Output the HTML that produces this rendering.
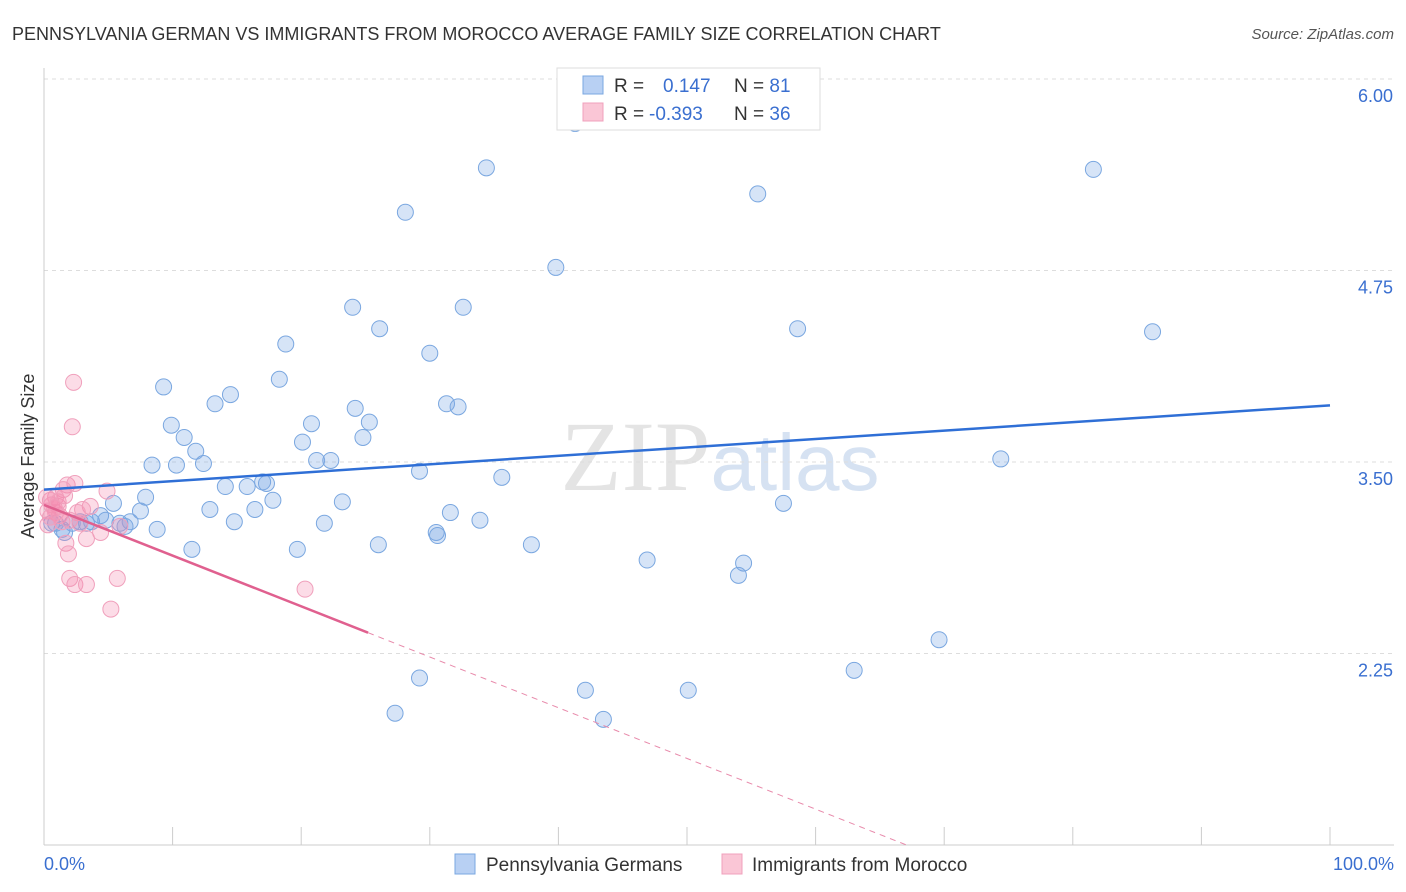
<!DOCTYPE html>
<html><head><meta charset="utf-8"><style>
body{margin:0;background:#fff;font-family:"Liberation Sans",sans-serif;}
svg{display:block}
</style></head><body>
<svg id="chart" width="1406" height="892">
<text x="12" y="40" font-size="18" fill="#333">PENNSYLVANIA GERMAN VS IMMIGRANTS FROM MOROCCO AVERAGE FAMILY SIZE CORRELATION CHART</text>
<text x="1394" y="39" font-size="15" fill="#555" font-style="italic" text-anchor="end">Source: ZipAtlas.com</text>
<text x="720" y="490" font-size="100" fill="#e4e4e4" text-anchor="middle" font-family="Liberation Serif">ZIP<tspan fill="#d6e2f2" font-family="Liberation Sans" font-size="80">atlas</tspan></text>
<g id="grid"></g><g id="axes"></g><g id="pts"></g><g id="trend"></g>
<text transform="translate(34,456) rotate(-90)" font-size="18" fill="#333" text-anchor="middle">Average Family Size</text>
<text x="44" y="870" font-size="18" fill="#3a6fd0">0.0%</text>
<text x="1394" y="870" font-size="18" fill="#3a6fd0" text-anchor="end">100.0%</text>
<g>
<rect x="557" y="68" width="263" height="62" fill="#fff" stroke="#ddd"/>
<rect x="583" y="76" width="20" height="18" fill="#b8d0f3" stroke="#7aa7e0"/>
<rect x="583" y="103" width="20" height="18" fill="#fac6d6" stroke="#f0a0bc"/>
<text x="614" y="92" font-size="19" fill="#333">R = <tspan fill="#3a6fd0" x="663">0.147</tspan><tspan x="734">N = </tspan><tspan fill="#3a6fd0">81</tspan></text>
<text x="614" y="120" font-size="19" fill="#333">R = <tspan fill="#3a6fd0" x="649">-0.393</tspan><tspan x="734">N = </tspan><tspan fill="#3a6fd0">36</tspan></text>
</g>
<g>
<rect x="455" y="854" width="20" height="20" fill="#b8d0f3" stroke="#7aa7e0"/>
<text x="486" y="871" font-size="19" fill="#333">Pennsylvania Germans</text>
<rect x="722" y="854" width="20" height="20" fill="#fac6d6" stroke="#f0a0bc"/>
<text x="752" y="871" font-size="19" fill="#333">Immigrants from Morocco</text>
</g>
</svg>
<script>
const yTicks=[2.25,3.5,4.75,6.0];
const yTickLabels=["2.25","3.50","4.75","6.00"];
const blueX=[41.3,34.4,81.6,55.5,28.1,39.8,24.0,32.6,26.1,58.6,86.2,18.8,30.0,18.3,9.3,14.5,13.3,31.3,32.2,24.2,20.8,25.3,9.9,24.8,10.9,20.1,11.8,21.2,22.3,8.4,10.3,12.4,74.4,29.2,35.6,17.0,17.3,14.1,15.8,7.9,17.8,23.2,5.4,57.5,12.9,16.4,7.5,31.6,4.4,33.9,4.8,14.8,6.7,21.8,2.2,0.9,3.7,1.4,5.9,6.3,3.3,8.8,30.5,30.6,26.0,37.9,19.7,11.5,46.9,54.4,54.0,69.6,63.0,29.2,42.1,50.1,27.3,43.5,0.6,2.8,1.6];
const blueY=[5.71,5.42,5.41,5.25,5.13,4.77,4.51,4.51,4.37,4.37,4.35,4.27,4.21,4.04,3.99,3.94,3.88,3.88,3.86,3.85,3.75,3.76,3.74,3.66,3.66,3.63,3.57,3.51,3.51,3.48,3.48,3.49,3.52,3.44,3.40,3.37,3.36,3.34,3.34,3.27,3.25,3.24,3.23,3.23,3.19,3.19,3.18,3.17,3.15,3.12,3.12,3.11,3.11,3.10,3.10,3.10,3.11,3.06,3.10,3.08,3.10,3.06,3.04,3.02,2.96,2.96,2.93,2.93,2.86,2.84,2.76,2.34,2.14,2.09,2.01,2.01,1.86,1.82,3.10,3.11,3.04];
const pinkX=[2.3,2.2,1.8,2.4,1.5,0.9,4.9,0.5,3.6,3.0,0.3,0.9,1.2,0.6,0.2,1.1,2.6,0.3,1.4,2.0,3.3,4.4,5.9,1.7,1.9,2.0,5.7,2.4,3.3,20.3,5.2,0.8,1.1,1.6,0.5,2.8];
const pinkY=[4.02,3.73,3.35,3.36,3.32,3.27,3.31,3.25,3.21,3.19,3.18,3.17,3.15,3.22,3.27,3.21,3.17,3.09,3.11,3.12,3.00,3.04,3.08,2.97,2.90,2.74,2.74,2.70,2.70,2.67,2.54,3.20,3.24,3.28,3.14,3.10];
const blueTrend=[3.32,3.87];
const pinkTrend=[3.22,-0.0331];
const NS="http://www.w3.org/2000/svg";
const X=p=>44+p*12.86, Y=v=>462-(v-3.5)*153.2;
function mk(parent,tag,attrs){const e=document.createElementNS(NS,tag);for(const k in attrs)e.setAttribute(k,attrs[k]);document.getElementById(parent).appendChild(e);return e;}
yTicks.forEach((t,i)=>{
 const l=mk('grid','line',{x1:44,x2:1394,y1:Y(t),y2:Y(t),stroke:'#ddd','stroke-dasharray':'4,4'});
 
 
 const tx=mk('grid','text',{x:1393,y:Y(t)+23,'font-size':18,fill:'#3a6fd0','text-anchor':'end'});
 tx.textContent=yTickLabels[i];
 
 
});
const ax=mk('axes','line',{x1:44,x2:1394,y1:845,y2:845,stroke:'#ccc'});


const ay=mk('axes','line',{x1:44,x2:44,y1:68,y2:845,stroke:'#ccc'});


for(let i=0;i<=10;i++){const t=mk('axes','line',{x1:X(i*10),x2:X(i*10),y1:827,y2:845,stroke:'#ccc'});
 
 }
blueX.forEach((x,i)=>{const c=mk('pts','circle',{cx:X(x),cy:Y(blueY[i]),r:8,fill:'rgba(120,165,230,0.3)',stroke:'#7aa7e0','stroke-width':1});
 
 });
pinkX.forEach((x,i)=>{const c=mk('pts','circle',{cx:X(x),cy:Y(pinkY[i]),r:8,fill:'rgba(245,140,175,0.3)',stroke:'#f0a0bc','stroke-width':1});
 
 });
const bt=mk('trend','line',{x1:X(0),y1:Y(blueTrend[0]),x2:X(100),y2:Y(blueTrend[1]),stroke:'#2f6fd6','stroke-width':2.5});


const pe=25.2, pz=(1.0-pinkTrend[0])/pinkTrend[1];
const ps=mk('trend','line',{x1:X(0),y1:Y(pinkTrend[0]),x2:X(pe),y2:Y(pinkTrend[0]+pinkTrend[1]*pe),stroke:'#e0608f','stroke-width':2.5});


const pd=mk('trend','line',{x1:X(pe),y1:Y(pinkTrend[0]+pinkTrend[1]*pe),x2:X(pz),y2:Y(1.0),stroke:'#e88aab','stroke-width':1,'stroke-dasharray':'6,5'});


</script>
</body></html>
